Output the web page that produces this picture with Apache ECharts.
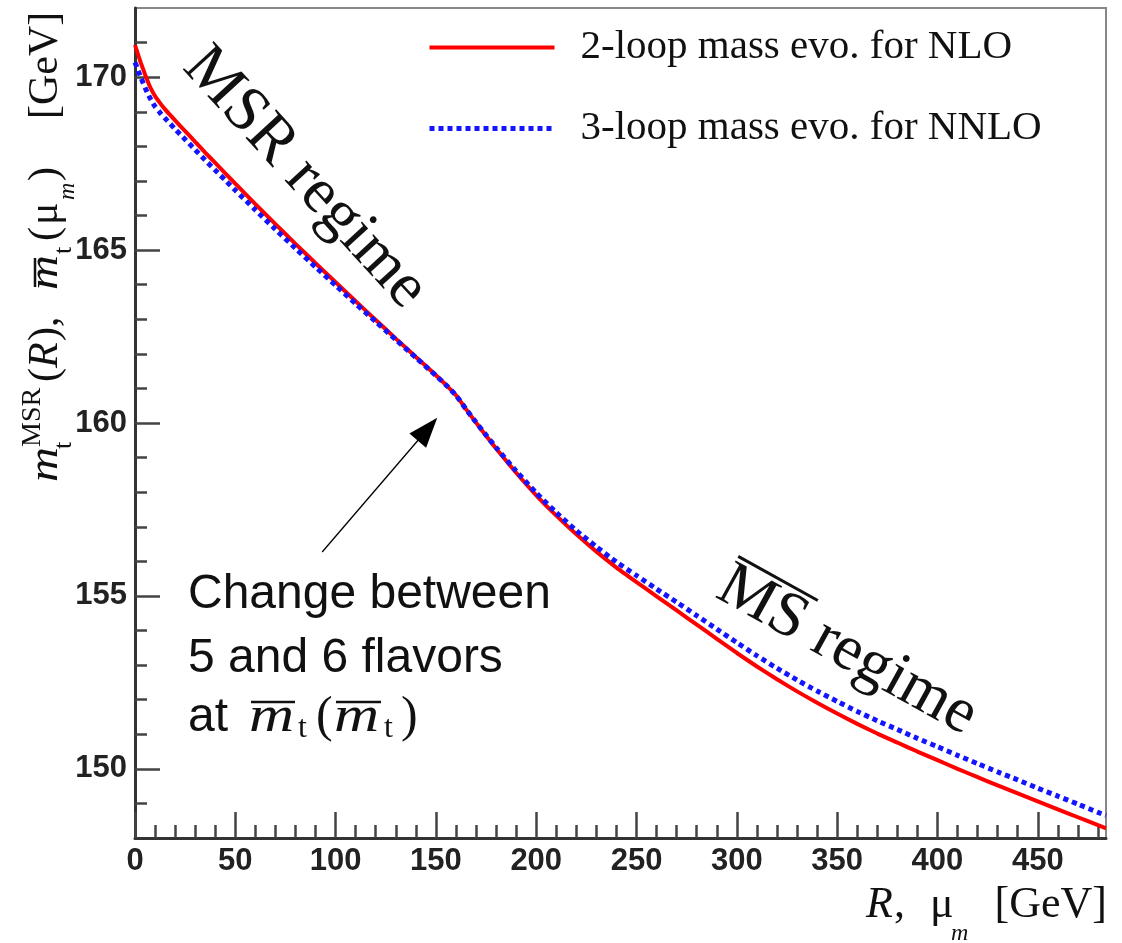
<!DOCTYPE html>
<html><head><meta charset="utf-8">
<script src="https://cdn.jsdelivr.net/npm/echarts@6/dist/echarts.min.js"></script>
<style>html,body{margin:0;padding:0;background:#fff}#c{width:1122px;height:943px}</style>
</head><body><div id="c"></div>
<script>
// R (= mu_m) in GeV
const rValues = [0,1,2,3,4,5,6,7,8,10,12.5,15,20,25,30,35,40,45,50,60,70,80,90,100,110,120,130,140,150,155,160,165,170,175,180,190,200,210,220,230,240,250,260,270,280,290,300,310,320,330,340,350,360,370,380,390,400,410,420,430,440,450,460,470,480,484];
// 2-loop mass evolution for NLO (red, solid)
const nloMass = [170.93,170.75,170.57,170.40,170.24,170.08,169.93,169.79,169.66,169.45,169.25,169.07,168.75,168.44,168.13,167.82,167.52,167.22,166.92,166.33,165.75,165.18,164.62,164.07,163.52,162.98,162.44,161.91,161.38,161.10,160.80,160.40,160.01,159.63,159.26,158.56,157.91,157.32,156.78,156.28,155.82,155.40,154.99,154.58,154.17,153.76,153.35,152.96,152.59,152.24,151.91,151.60,151.30,151.02,150.76,150.50,150.25,150.00,149.76,149.52,149.29,149.06,148.83,148.60,148.37,148.28];
// 3-loop mass evolution for NNLO (blue, dotted)
const nnloMass = [170.43,170.28,170.12,169.98,169.84,169.70,169.57,169.45,169.34,169.15,168.97,168.81,168.50,168.20,167.90,167.60,167.31,167.02,166.73,166.16,165.60,165.05,164.51,163.98,163.45,162.93,162.41,161.89,161.37,161.10,160.80,160.40,160.02,159.65,159.29,158.61,157.98,157.41,156.89,156.42,155.98,155.59,155.20,154.82,154.43,154.04,153.65,153.27,152.91,152.57,152.25,151.95,151.66,151.39,151.14,150.88,150.64,150.39,150.15,149.91,149.68,149.44,149.21,148.98,148.74,148.65];
const seriesNames = ['2-loop mass evo. for NLO', '3-loop mass evo. for NNLO'];
const xMajorTicks = [0,50,100,150,200,250,300,350,400,450];
const yMajorTicks = [150,155,160,165,170];
const xMinorTicks = [];
for (let v = 10; v <= 480; v += 10) if (v % 50 !== 0) xMinorTicks.push(v);
const yMinorTicks = [];
for (let v = 149; v <= 171; v += 1) if (v % 5 !== 0) yMinorTicks.push(v);
// annotation arrow (tail, head centre) in data coordinates
const arrowTail = [93.3, 156.27];
const arrowHead = [145.8, 159.82];

const serif = '"Liberation Serif", "DejaVu Serif", serif';
const sans = '"Liberation Sans", Arial, sans-serif';
const ink = '#111';
const redStyle = {color: '#ff0000', width: 4};
const blueStyle = {color: '#1414ff', width: 5, type: [5, 4], cap: 'butt'};

function T(x, y, text, font, extra, sx) {
  const st = Object.assign({text: text, font: font, fill: ink, align: 'left', verticalAlign: 'middle', textAlign: 'left', textVerticalAlign: 'middle'}, extra || {});
  const el = {type: 'text', x: x, y: y, style: st};
  if (sx) el.scaleX = sx;
  return el;
}
function L(x1, y1, x2, y2, w) {
  return {type: 'line', shape: {x1: x1, y1: y1, x2: x2, y2: y2}, style: {stroke: ink, lineWidth: w || 2.5}};
}

const chart = echarts.init(document.getElementById('c'), null, {renderer: 'canvas'});
const pairs = a => rValues.map((r, i) => [r, a[i]]);

const axisLineStyle = {color: '#333', width: 3};
const tickStyle = {color: '#444', width: 2.5};

chart.setOption({
  animation: false,
  backgroundColor: '#fff',
  grid: {left: 135, right: 16, top: 8, bottom: 105, show: true, borderColor: '#888', borderWidth: 2, backgroundColor: 'transparent'},
  legend: {
    orient: 'vertical', left: 427, top: 27, padding: 0, itemWidth: 125, itemHeight: 41, itemGap: 40,
    data: [
      {name: seriesNames[0], lineStyle: redStyle, itemStyle: {opacity: 0}},
      {name: seriesNames[1], lineStyle: blueStyle, itemStyle: {opacity: 0}}
    ],
    itemStyle: {opacity: 0},
    textStyle: {fontFamily: serif, fontSize: 41, color: ink, padding: [0, 0, 0, 21]},
    selectedMode: false
  },
  xAxis: [
    {type: 'value', min: 0, max: 484, position: 'bottom',
     axisLine: {show: true, onZero: false, lineStyle: axisLineStyle},
     axisTick: {show: true, inside: true, length: 26, customValues: xMajorTicks, lineStyle: tickStyle},
     axisLabel: {customValues: xMajorTicks, fontFamily: sans, fontWeight: 'bold', fontSize: 31, color: '#222', margin: 8},
     splitLine: {show: false}},
    {type: 'value', min: 0, max: 484, position: 'bottom',
     axisLine: {show: false},
     axisTick: {show: true, inside: true, length: 13, customValues: xMinorTicks, lineStyle: tickStyle},
     axisLabel: {show: false}, splitLine: {show: false}}
  ],
  yAxis: [
    {type: 'value', min: 148, max: 172, position: 'left',
     axisLine: {show: true, onZero: false, lineStyle: axisLineStyle},
     axisTick: {show: true, inside: true, length: 25, customValues: yMajorTicks, lineStyle: tickStyle},
     axisLabel: {customValues: yMajorTicks, fontFamily: sans, fontWeight: 'bold', fontSize: 31, color: '#222', margin: 8},
     splitLine: {show: false}},
    {type: 'value', min: 148, max: 172, position: 'left',
     axisLine: {show: false},
     axisTick: {show: true, inside: true, length: 12, customValues: yMinorTicks, lineStyle: tickStyle},
     axisLabel: {show: false}, splitLine: {show: false}}
  ],
  series: [
    {name: seriesNames[0], type: 'line', data: pairs(nloMass), symbol: 'none', smooth: 0.2, z: 2,
     lineStyle: redStyle,
     itemStyle: {color: '#ff0000'},
     markLine: {silent: true, symbol: ['none', 'triangle'], symbolSize: [22, 30],
       lineStyle: {color: '#000', width: 1.3, type: 'solid'}, label: {show: false},
       itemStyle: {color: '#000'},
       data: [[{coord: arrowTail}, {coord: arrowHead}]]}},
    {name: seriesNames[1], type: 'line', data: pairs(nnloMass), symbol: 'none', smooth: 0.2, z: 3,
     lineStyle: blueStyle,
     itemStyle: {color: '#1414ff'}}
  ],
  graphic: [
    // y-axis title (rotated)
    {type: 'group', x: 46, y: 482, rotation: Math.PI / 2, children: [
      T(0, 0, 'm', 'italic 42px ' + serif, null, 1.15),
      T(33, 18, 't', '26px ' + serif),
      T(35, -13, 'MSR', '28px ' + serif),
      T(100, 0, '(', '42px ' + serif),
      T(114, 0, 'R', 'italic 42px ' + serif),
      T(141, 0, '),', '42px ' + serif),
      T(192, 0, 'm', 'italic 42px ' + serif, null, 1.15),
      L(195, -11, 224, -11, 2.5),
      T(228, 18, 't', '26px ' + serif),
      T(241, 0, '(', '42px ' + serif),
      T(257, 0, 'μ', '42px ' + serif),
      T(282, 22, 'm', 'italic 24px ' + serif),
      T(301, 0, ')', '42px ' + serif),
      T(363, 0, '[GeV]', '42px ' + serif)
    ]},
    // x-axis title
    T(866, 905, 'R', 'italic 44px ' + serif),
    T(894, 905, ',', '44px ' + serif),
    T(930, 905, 'μ', '44px ' + serif),
    T(951, 934, 'm', 'italic 24px ' + serif),
    T(1107, 905, '[GeV]', '44px ' + serif, {align: 'right', textAlign: 'right'}),
    // MSR regime
    {type: 'text', x: 305, y: 178, rotation: -47.5 * Math.PI / 180,
     style: {text: 'MSR regime', font: '64px ' + serif, fill: ink, align: 'center', verticalAlign: 'middle', textAlign: 'center', textVerticalAlign: 'middle'}},
    // MS-bar regime
    {type: 'group', x: 847, y: 651, rotation: -29 * Math.PI / 180, children: [
      T(0, 0, 'MS regime', '64px ' + serif, {align: 'center', textAlign: 'center'}),
      L(-141, -30, -50, -30, 3)
    ]},
    // flavour change note
    T(188, 595, 'Change between', '48px ' + sans),
    T(188, 659, '5 and 6 flavors', '48px ' + sans),
    T(188, 718, 'at', '48px ' + sans),
    T(249, 718, 'm', 'italic 50px ' + serif, null, 1.25),
    L(251, 702, 295, 702, 2.5),
    T(298, 729, 't', '32px ' + serif),
    T(316, 718, '(', '50px ' + serif),
    T(334, 718, 'm', 'italic 50px ' + serif, null, 1.25),
    L(336, 702, 381, 702, 2.5),
    T(384, 729, 't', '32px ' + serif),
    T(401, 718, ')', '50px ' + serif)
  ]
});
</script>
</body></html>
